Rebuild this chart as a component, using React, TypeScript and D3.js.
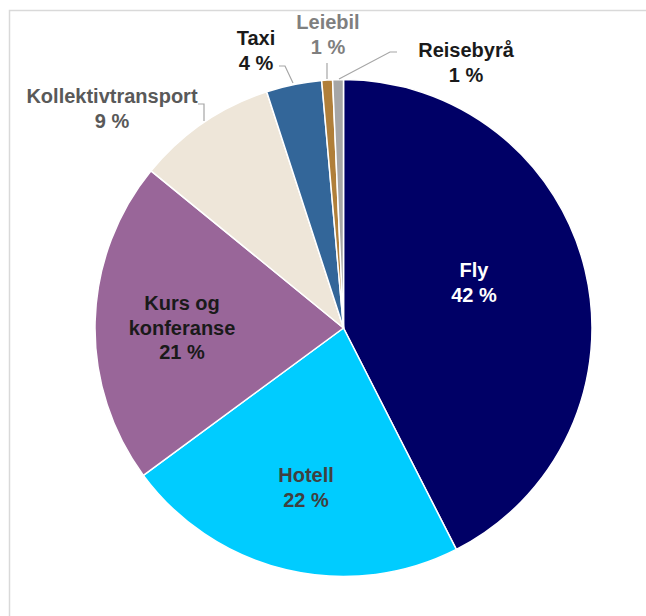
import React from "react";
import * as d3 from "d3";

const categories = ["Fly", "Hotell", "Kurs og konferanse", "Kollektivtransport", "Taxi", "Leiebil", "Reisebyrå"];
const values = [42.5, 22.4, 21.0, 9.1, 3.6, 0.7, 0.7];
const percentLabels = ["42 %", "22 %", "21 %", "9 %", "4 %", "1 %", "1 %"];
const labelLines = [["Fly"], ["Hotell"], ["Kurs og", "konferanse"], ["Kollektivtransport"], ["Taxi"], ["Leiebil"], ["Reisebyrå"]];
const colors = ["#000066", "#00CCFF", "#996699", "#EEE6D9", "#336699", "#B07F3A", "#A6A6A6"];
const textColors = ["#FFFFFF", "#404040", "#1a1a1a", "#595959", "#1a1a1a", "#7F7F7F", "#1a1a1a"];

const W = 646;
const H = 616;
const cx = 343.5;
const cy = 328;
const R = 248.5;

// label anchor positions (center x, first baseline y)
const labelPos: [number, number][] = [
  [474, 277],
  [306, 482],
  [182, 310],
  [112, 103],
  [256, 45],
  [328, 29],
  [466, 57],
];

const leaders: [number, number][][] = [
  [],
  [],
  [],
  [[198, 104], [204, 104], [204, 121]],
  [[279, 66], [285, 66], [293, 83]],
  [[327, 63], [327, 79]],
  [[397, 52], [390, 52], [339, 79]],
];

export default function App() {
  const pie = d3.pie<number>().sort(null).value((d) => d)(values);
  const arc = d3.arc<d3.PieArcDatum<number>>().innerRadius(0).outerRadius(R);
  const line = d3.line();
  return (
    <svg width={W} height={H} style={{ position: "absolute", left: 0, top: 0, background: "#fff" }}>
      <rect x={9.5} y={10.5} width={W} height={H} fill="none" stroke="#D9D9D9" strokeWidth={1.5} />
      <g transform={`translate(${cx},${cy})`}>
        {pie.map((p, i) => (
          <path key={categories[i]} d={arc(p) || ""} fill={colors[i]} stroke="#FFFFFF" strokeWidth={1.5} strokeLinejoin="round" />
        ))}
      </g>
      {leaders.map((pts, i) =>
        pts.length ? (
          <path key={"l" + i} d={line(pts) || ""} fill="none" stroke="#A6A6A6" strokeWidth={1.2} />
        ) : null
      )}
      {labelLines.map((lines, i) => {
        const [x, y] = labelPos[i];
        const all = [...lines, percentLabels[i]];
        return (
          <text
            key={"t" + i}
            x={x}
            y={y}
            textAnchor="middle"
            fill={textColors[i]}
            fontFamily="'Liberation Sans', Arial, sans-serif"
            fontWeight="bold"
            fontSize={20}
          >
            {all.map((s, j) => (
              <tspan key={j} x={x} dy={j === 0 ? 0 : 24.5}>
                {s}
              </tspan>
            ))}
          </text>
        );
      })}
    </svg>
  );
}
